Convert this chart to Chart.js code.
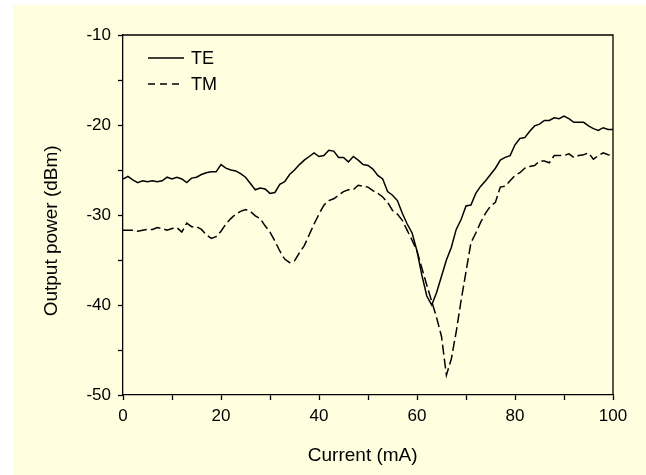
<!DOCTYPE html>
<html>
<head>
<meta charset="utf-8">
<script src="https://cdn.jsdelivr.net/npm/chart.js@4"></script>
<style>
  body { margin: 0; background: #ffffff; }
  canvas { display: block; }
</style>
</head>
<body>
<canvas id="powerChart" width="646" height="475"></canvas>
<script>
// --- DATA ---
const current = [
  0, 1, 2, 3, 4, 5, 6, 7, 8, 9, 10, 11, 12, 13, 14, 15, 16, 17, 18, 19,
  20, 21, 22, 23, 24, 25, 26, 27, 28, 29, 30, 31, 32, 33, 34, 35, 36, 37, 38, 39,
  40, 41, 42, 43, 44, 45, 46, 47, 48, 49, 50, 51, 52, 53, 54, 55, 56, 57, 58, 59,
  60, 61, 62, 63, 64, 65, 66, 67, 68, 69, 70, 71, 72, 73, 74, 75, 76, 77, 78, 79,
  80, 81, 82, 83, 84, 85, 86, 87, 88, 89, 90, 91, 92, 93, 94, 95, 96, 97, 98, 99, 100
];

const te = [
  -26.0, -25.7, -26.1, -26.4, -26.2, -26.3, -26.2, -26.3, -26.2, -25.8,
  -26.0, -25.8, -26.0, -26.4, -25.9, -25.8, -25.5, -25.3, -25.2, -25.2,
  -24.4, -24.8, -25.0, -25.1, -25.4, -25.8, -26.5, -27.2, -27.0, -27.1,
  -27.6, -27.5, -26.6, -26.3, -25.5, -25.0, -24.4, -23.9, -23.5, -23.1,
  -23.5, -23.4, -22.8, -22.9, -23.6, -23.6, -24.1, -23.5, -23.9, -24.4,
  -24.5, -24.9, -25.6, -26.0, -27.4, -27.8, -28.4, -29.8, -31.0, -32.0,
  -34.0, -36.7, -39.0, -40.0, -38.6, -36.8, -35.0, -33.6, -31.6, -30.5,
  -29.0, -28.9, -27.6, -26.8, -26.2, -25.5, -24.8, -23.9, -23.6, -23.4,
  -22.2, -21.5, -21.4, -20.7, -20.1, -19.9, -19.5, -19.5, -19.2, -19.3,
  -19.0, -19.3, -19.7, -19.7, -19.7, -20.1, -20.4, -20.6, -20.3, -20.5, -20.5
];

const tm = [
  -31.7, -31.7, -31.7, -31.8, -31.7, -31.6, -31.6, -31.4, -31.5, -31.7,
  -31.5, -31.4, -31.9, -30.9, -31.3, -31.3, -31.6, -32.2, -32.6, -32.4,
  -31.8, -31.0, -30.4, -29.9, -29.6, -29.4, -29.6, -30.1, -30.4, -31.2,
  -31.9, -32.9, -34.0, -34.9, -35.3, -35.1, -34.2, -33.4, -32.2, -31.0,
  -29.9, -28.9, -28.4, -28.2, -27.8, -27.4, -27.2, -27.2, -26.7, -26.8,
  -26.9, -27.3, -27.6, -28.0, -28.6, -29.5, -29.9, -30.6, -31.7, -32.8,
  -34.0, -35.9, -37.8, -39.6, -41.4, -43.5, -47.8, -46.0, -43.0, -39.5,
  -36.3, -33.1, -32.0, -30.8, -29.8, -29.0, -28.6, -26.9, -26.8, -26.2,
  -25.6, -25.3, -24.8, -24.6, -24.5, -24.0, -24.0, -24.2, -23.4, -23.4,
  -23.4, -23.2, -23.6, -23.4, -23.3, -23.1, -23.8, -23.4, -23.1, -23.3, -23.4
];

const xTickLabels = [0, 20, 40, 60, 80, 100];
const yTickLabels = [-10, -20, -30, -40, -50];

// --- PLUGINS ---
const pageBackground = {
    id: 'pageBackground',
    beforeDraw(chart) {
        const ctx = chart.ctx;
        ctx.save();
        ctx.fillStyle = '#ffffff';
        ctx.fillRect(0, 0, chart.width, chart.height);
        ctx.fillStyle = '#ffffe0';
        ctx.fillRect(13, 5, chart.width - 13, chart.height - 5);
        ctx.restore();
    }
};

const frameAndLegend = {
    id: 'frameAndLegend',
    afterDraw(chart) {
        const ctx = chart.ctx;
        const a = chart.chartArea;
        ctx.save();
        // top and right frame lines
        ctx.strokeStyle = '#000';
        ctx.lineWidth = 1.3;
        ctx.beginPath();
        ctx.moveTo(a.left, a.top);
        ctx.lineTo(a.right, a.top);
        ctx.lineTo(a.right, a.bottom);
        ctx.stroke();

        // legend inside the plot
        ctx.font = '18px "Liberation Sans", Arial, sans-serif';
        ctx.textBaseline = 'middle';
        ctx.fillStyle = '#000';
        chart.data.datasets.forEach((ds, i) => {
            const y = 58 + i * 26;
            ctx.setLineDash(ds.borderDash ? [7, 5] : []);
            ctx.lineWidth = ds.borderWidth;
            ctx.beginPath();
            ctx.moveTo(148, y);
            ctx.lineTo(184, y);
            ctx.stroke();
            ctx.setLineDash([]);
            ctx.fillText(ds.label, 191, y + 1);
        });
        ctx.restore();
    }
};

// --- CHART ---
const tickFont = { family: '"Liberation Sans", Arial, sans-serif', size: 17 };
const titleFont = { family: '"Liberation Sans", Arial, sans-serif', size: 19 };

const ctx = document.getElementById('powerChart').getContext('2d');
new Chart(ctx, {
    type: 'line',
    data: {
        labels: current,
        datasets: [{
            label: 'TE',
            data: te,
            borderColor: '#000',
            borderWidth: 1.5,
            pointRadius: 0,
            tension: 0,
            fill: false
        }, {
            label: 'TM',
            data: tm,
            borderColor: '#000',
            borderWidth: 1.5,
            borderDash: [10, 4],
            pointRadius: 0,
            tension: 0,
            fill: false
        }]
    },
    options: {
        responsive: false,
        animation: false,
        devicePixelRatio: 1,
        layout: { padding: { left: 0, top: 35, right: 33, bottom: 0 } },
        plugins: {
            legend: { display: false },
            tooltip: { enabled: false }
        },
        scales: {
            x: {
                type: 'linear',
                min: 0,
                max: 100,
                afterFit: scale => { scale.height = 80; },
                ticks: {
                    stepSize: 10,
                    maxRotation: 0,
                    autoSkip: false,
                    padding: 6,
                    color: '#000',
                    font: tickFont,
                    callback: v => xTickLabels.includes(v) ? String(v) : ''
                },
                grid: {
                    drawOnChartArea: false,
                    drawTicks: true,
                    tickLength: 5,
                    tickWidth: 1.3,
                    color: '#000'
                },
                border: { display: true, color: '#000', width: 1.3 },
                title: {
                    display: true,
                    text: 'Current (mA)\u00a0\u00a0',
                    color: '#000',
                    font: titleFont,
                    padding: { top: 0, bottom: 8 }
                }
            },
            y: {
                min: -50,
                max: -10,
                afterFit: scale => { scale.width = 123; },
                ticks: {
                    stepSize: 5,
                    autoSkip: false,
                    padding: 7,
                    color: '#000',
                    font: tickFont,
                    callback: v => yTickLabels.includes(v) ? String(v) : ''
                },
                grid: {
                    drawOnChartArea: false,
                    drawTicks: true,
                    tickLength: 5,
                    tickWidth: 1.3,
                    color: '#000'
                },
                border: { display: true, color: '#000', width: 1.3 },
                title: {
                    display: true,
                    text: 'Output power (dBm)\u00a0\u00a0\u00a0\u00a0\u00a0\u00a0',
                    color: '#000',
                    font: titleFont,
                    padding: { top: 40, bottom: 0 }
                }
            }
        }
    },
    plugins: [pageBackground, frameAndLegend]
});
</script>
</body>
</html>
